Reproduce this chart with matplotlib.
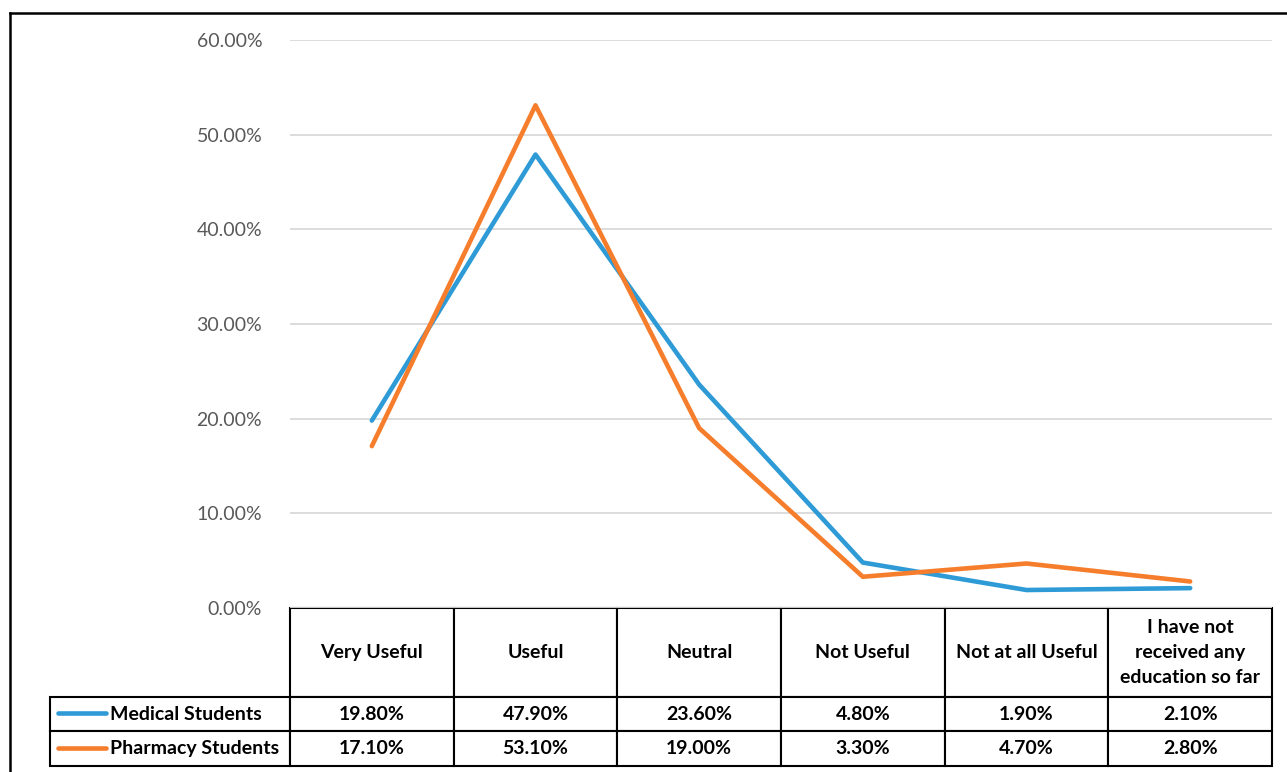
import matplotlib
matplotlib.use("Agg")
import matplotlib.pyplot as plt
from matplotlib.lines import Line2D

categories = ['Very Useful', 'Useful', 'Neutral', 'Not Useful', 'Not at all Useful',
              'I have not\nreceived any\neducation so far']
series_names = ['Medical Students', 'Pharmacy Students']
medical = [19.8, 47.9, 23.6, 4.8, 1.9, 2.1]
pharmacy = [17.1, 53.1, 19.0, 3.3, 4.7, 2.8]
y_ticks = [0, 10, 20, 30, 40, 50, 60]

colors = ['#2E9AD6', '#F57D2B']
W, H = 1287, 772
AX_W, AX_H = 982, 568   # axes size in pixels

fig = plt.figure(figsize=(W / 100, H / 100), dpi=100)
ax = fig.add_axes([290 / W, 1 - 608 / H, AX_W / W, AX_H / H])

x = range(len(categories))
for vals, c in zip([medical, pharmacy], colors):
    ax.plot(x, vals, color=c, lw=3.3, solid_capstyle='round', solid_joinstyle='round', zorder=3)

ax.set_xlim(-0.5, len(categories) - 0.5)
ax.set_ylim(0, 60)
ax.set_yticks(y_ticks)
ax.set_yticklabels([f'{t:.2f}%' for t in y_ticks], fontsize=14, color='#595959', family='Lato')
ax.tick_params(axis='y', length=0, pad=20)
ax.set_xticks([])
ax.grid(axis='y', color='#D9D9D9', lw=1.3)
ax.set_axisbelow(True)
for s in ax.spines.values():
    s.set_visible(False)

# data table under the plot (sizes in axes fractions so the bbox does not rescale)
cell_text = [[f'{v:.2f}%' for v in row] for row in (medical, pharmacy)]
row_h = [89 / AX_H, 34 / AX_H, 35 / AX_H]
tbl = ax.table(cellText=cell_text, colLabels=categories,
               cellLoc='center', colWidths=[1 / 6] * 6,
               bbox=[0, -sum(row_h), 1, sum(row_h)])
# row labels added by hand so their width is not auto-sized
for i, name in enumerate(series_names):
    cell = tbl.add_cell(i + 1, -1, width=240 / AX_W, height=row_h[i + 1], text=name, loc='left')
    cell.PAD = 0.25
tbl.auto_set_font_size(False)
tbl.set_fontsize(14)
for (r, c), cell in tbl.get_celld().items():
    cell.set_height(row_h[r])
    cell.set_linewidth(1.5)
    cell.set_edgecolor('black')
    cell.get_text().set_fontweight('bold')
    cell.get_text().set_family('Lato')
    if r == 0:
        cell.get_text().set_linespacing(1.55)

# legend keys inside the row label cells
for i, c in enumerate(colors):
    yk = (608 - (713 + 35 * i)) / AX_H
    ax.add_line(Line2D([(58 - 290) / AX_W, (106 - 290) / AX_W], [yk, yk], transform=ax.transAxes,
                       color=c, lw=3.3, solid_capstyle='round', clip_on=False))

# outer frame (left and top edges visible)
fx, fy = 10 / W, 1 - 13 / H
fig.add_artist(Line2D([fx, fx], [0, fy], color='black', lw=1.8))
fig.add_artist(Line2D([fx, 1], [fy, fy], color='black', lw=1.8))

fig.savefig('out.png', dpi=100)
